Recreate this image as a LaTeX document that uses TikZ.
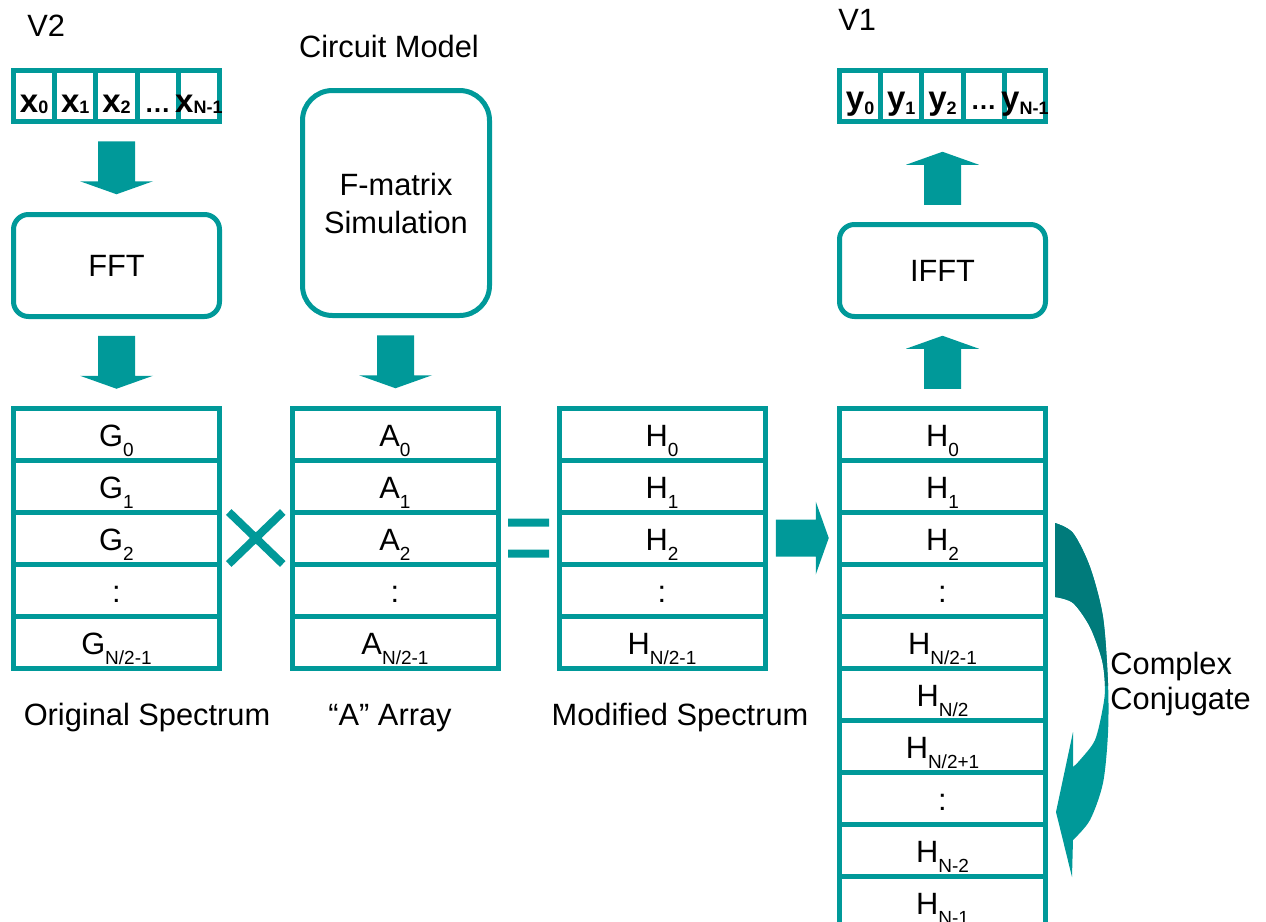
\documentclass[tikz,border=0pt]{standalone}
\usepackage{fontspec}
\setmainfont{Liberation Sans}
\usetikzlibrary{calc}
\definecolor{TealFlow}{HTML}{009999}
\definecolor{TealDark}{HTML}{007B7B}
\newcommand{\lblfont}{\fontsize{15.4}{19}\selectfont}
\newcommand{\elt}[2]{#1\raisebox{-5pt}[0pt][0pt]{\fontsize{9.5}{9.5}\selectfont #2}}
\newcommand{\smp}[3]{\makebox[0pt]{\bfseries\fontsize{16.5}{16.5}\selectfont #1\raisebox{#3}[0pt][0pt]{\fontsize{9}{9}\selectfont #2}}}
\newcommand{\dotsbox}{\makebox[0pt]{\bfseries\fontsize{13}{13}\selectfont …}}
\newcommand{\blkarrow}[2]{\fill[TealFlow, shift={#1}, rotate=#2] (-26.5,-18.5) -- (13.5,-18.5) -- (13.5,-36.5) -- (26.5,0) -- (13.5,36.5) -- (13.5,18.5) -- (-26.5,18.5) -- cycle;}

\begin{document}
\begin{tikzpicture}[x=0.5pt, y=-0.5pt,
    cell/.style={draw=TealFlow, line width=2.5pt, inner sep=0pt, minimum width=103pt,
        minimum height=26pt, text height=12pt, text depth=0pt, font=\lblfont},
    smpcell/.style={cell, minimum width=20.6pt, minimum height=25.5pt, text height=16.5pt},
    rbox/.style={draw=TealFlow, line width=2.5pt, rounded corners=7.5pt, inner sep=0pt,
        font=\lblfont, align=center},
    caption/.style={font=\lblfont, inner sep=0pt}]
    \path[use as bounding box] (0,0) rectangle (1266,922);
    \clip (0,0) rectangle (1266,922);

    % time samples in and out
    \node[caption, anchor=west] (v2) at (27,26) {V2};
    \node[caption, anchor=west] (v1) at (838,20) {V1};
    \foreach \t [count=\i from 0] in {\smp{x}{0}{-0.5pt},\smp{x}{1}{-0.5pt},\smp{x}{2}{-0.5pt},\dotsbox,\smp{x}{N-1}{-0.5pt}}
        \node[smpcell] (x\i) at (34.1+41.2*\i,95.5) {\t};
    \foreach \t [count=\i from 0] in {\smp{y}{0}{-2.5pt},\smp{y}{1}{-2.5pt},\smp{y}{2}{-2.5pt},\dotsbox,\smp{y}{N-1}{-2.5pt}}
        \node[smpcell, text height=14pt] (y\i) at (860.1+41.2*\i,95.5) {\t};

    % processing blocks
    \node[rbox, minimum width=103pt, minimum height=51pt] (fft) at (116.5,265.5) {FFT};
    \node[caption] (cm) at (389,46) {Circuit Model};
    \node[rbox, rounded corners=15pt, minimum width=93.5pt, minimum height=112.5pt] (fmat) at (396,203) {F-matrix\\Simulation};
    \node[rbox, minimum width=103pt, minimum height=46pt] (ifft) at (942.5,270.5) {IFFT};

    % spectra
    \foreach \t [count=\i from 0] in {\elt{G}{0},\elt{G}{1},\elt{G}{2},:,\elt{G}{N/2-1}}
        \node[cell] (g\i) at (116.5,434+52*\i) {\t};
    \foreach \t [count=\i from 0] in {\elt{A}{0},\elt{A}{1},\elt{A}{2},:,\elt{A}{N/2-1}}
        \node[cell] (a\i) at (395,434+52*\i) {\t};
    \foreach \t [count=\i from 0] in {\elt{H}{0},\elt{H}{1},\elt{H}{2},:,\elt{H}{N/2-1}}
        \node[cell] (h\i) at (662,434+52*\i) {\t};
    \foreach \t [count=\i from 0] in {\elt{H}{0},\elt{H}{1},\elt{H}{2},:,\elt{H}{N/2-1},\elt{H}{N/2},\elt{H}{N/2+1},:,\elt{H}{N-2},\elt{H}{N-1}}
        \node[cell] (r\i) at (942.5,434+52*\i) {\t};

    \node[caption, anchor=base] (origlbl) at (147,725) {Original Spectrum};
    \node[caption, anchor=base] (alabel) at (390,725) {“A” Array};
    \node[caption, anchor=base] (modlbl) at (680,725) {Modified Spectrum};
    \node[caption, anchor=north west, align=left, font=\fontsize{15.4}{17.5}\selectfont] (cclbl) at (1110,652) {Complex\\Conjugate};

    % block arrows
    \blkarrow{($(x2.south)!0.5!(fft.north)$)}{-90}
    \blkarrow{($(fft.south)!0.5!(g0.north)$)}{-90}
    \blkarrow{($(fmat.south)!0.5!(a0.north)$)}{-90}
    \blkarrow{($(h2.east)!0.5!(r2.west)$)}{0}
    \blkarrow{($(r0.north)!0.5!(ifft.south)$)}{90}
    \blkarrow{($(ifft.north)!0.444!(y2.south)$)}{90}

    % times and equals
    \coordinate (times) at ($(g2.east)!0.5!(a2.west)$);
    \draw[TealFlow, line width=4pt] ($(times)+(-27,-26)$) -- ($(times)+(27,26)$)
        ($(times)+(-27,26)$) -- ($(times)+(27,-26)$);
    \coordinate (equals) at ($(a2.east)!0.5!(h2.west)$);
    \fill[TealFlow] ($(equals)+(-20.5,-19.5)$) rectangle ($(equals)+(20.5,-11.5)$)
        ($(equals)+(-20.5,11.5)$) rectangle ($(equals)+(20.5,19.5)$);

    % conjugate twist arrow
    \foreach \c/\ymax in {TealFlow/930,TealDark/685} {
        \begin{scope}
            \clip (1040,500) rectangle (1130,\ymax);
            \fill[\c] plot[smooth] coordinates {(1055,523) (1073,533) (1090,567) (1103,617) (1108,683) (1108,733) (1103,783) (1090,820) (1073,840)}
                -- (1072,877) -- (1056,812) -- (1073,732) -- (1073,767)
                -- plot[smooth] coordinates {(1073,767) (1080,760) (1095,740) (1103,707) (1105,687) (1102,660) (1090,627) (1073,603) (1055,597)} -- cycle;
        \end{scope}
    }
\end{tikzpicture}
\end{document}
